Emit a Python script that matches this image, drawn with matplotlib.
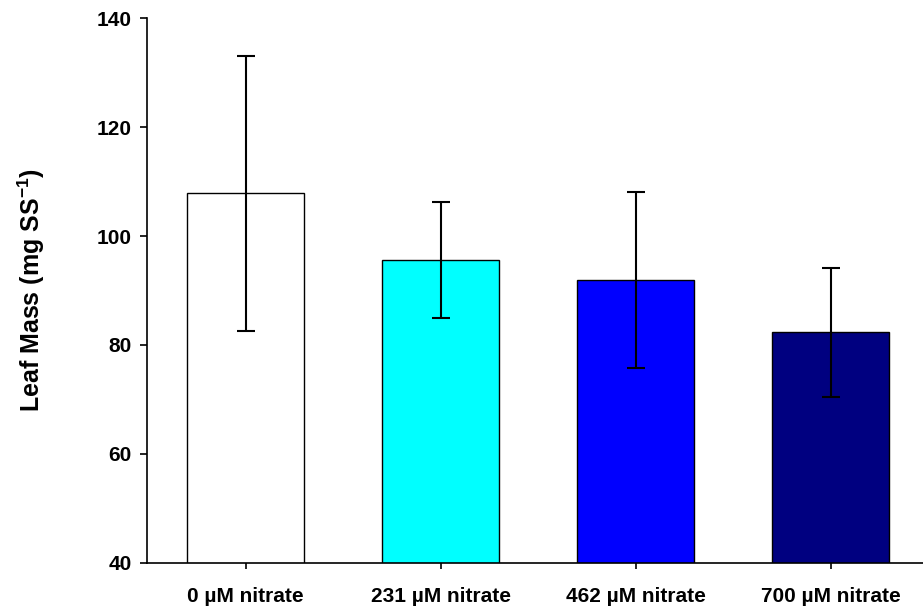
import matplotlib
matplotlib.use("Agg")
import matplotlib.pyplot as plt

plt.rcParams["font.family"] = ["Liberation Sans", "DejaVu Sans"]
plt.rcParams["font.weight"] = "bold"
plt.rcParams["mathtext.fontset"] = "custom"
plt.rcParams["mathtext.rm"] = "Liberation Sans:bold"

# leaf mass per treatment (mean and error)
treatments = ["0 µM nitrate", "231 µM nitrate", "462 µM nitrate", "700 µM nitrate"]
leaf_mass = [107.8, 95.6, 91.9, 82.3]
leaf_err = [25.2, 10.6, 16.2, 11.9]
bar_colors = ["#FFFFFF", "#00FFFF", "#0000FF", "#000080"]

if __name__ == "__main__":
    fig = plt.figure(figsize=(9.23, 6.13), dpi=100)
    ax = fig.add_axes([0.1593, 0.0816, 0.8407, 0.889])

    x = list(range(len(treatments)))
    ax.bar(x, leaf_mass, width=0.6, color=bar_colors, edgecolor="black",
           linewidth=1.0, zorder=2)
    ax.errorbar(x, leaf_mass, yerr=leaf_err, fmt="none", ecolor="black",
                elinewidth=1.5, capsize=6.5, capthick=1.5, zorder=3)

    ax.set_ylim(40, 140)
    ax.set_yticks([40, 60, 80, 100, 120, 140])
    ax.set_xlim(-0.505, 3.474)
    ax.set_xticks(x)
    ax.set_xticklabels(treatments, fontsize=15, fontweight="bold")
    ax.tick_params(axis="y", labelsize=15, length=5, width=1.2, pad=6)
    ax.tick_params(axis="x", length=4.5, width=1.2, pad=13)
    for lbl in ax.get_yticklabels():
        lbl.set_fontweight("bold")

    ax.set_ylabel("Leaf Mass (mg SS$^{\\mathregular{-1}}$)", fontsize=18,
                  fontweight="bold", labelpad=36)

    ax.spines["top"].set_visible(False)
    ax.spines["right"].set_visible(False)
    ax.spines["left"].set_linewidth(1.2)
    ax.spines["bottom"].set_linewidth(1.2)

    fig.savefig("out.png", dpi=100)
